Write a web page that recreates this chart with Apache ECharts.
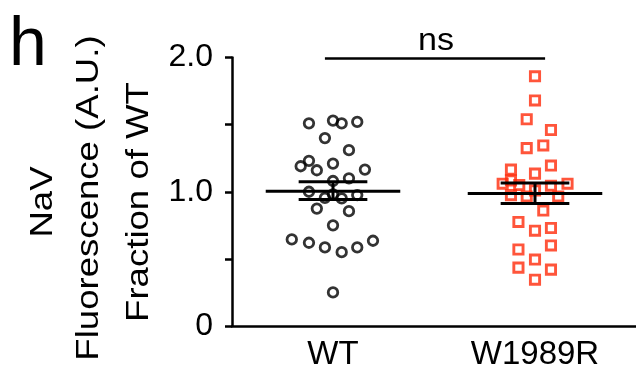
<!DOCTYPE html>
<html>
<head>
<meta charset="utf-8">
<script src="https://cdn.jsdelivr.net/npm/echarts@6/dist/echarts.min.js"></script>
<style>
  html, body { margin: 0; padding: 0; background: #fff; }
  #chart { width: 636px; height: 382px; }
</style>
</head>
<body>
<div id="chart"></div>
<script>
// groups on the x axis
const categories = ['WT', 'W1989R']

// [x position (jittered around group), value]
const wtPoints = [
  [0.881, 1.51], [1.0, 1.53], [1.043, 1.51], [1.12, 1.52], [0.96, 1.40],
  [1.079, 1.31], [0.881, 1.23], [0.84, 1.19], [0.92, 1.16], [1.0, 1.21],
  [1.158, 1.165], [1.0, 1.08], [1.079, 1.10], [0.881, 1.00], [0.96, 0.955],
  [1.0, 0.98], [1.043, 0.95], [1.12, 0.975], [0.92, 0.875], [1.079, 0.855],
  [1.0, 0.75], [0.796, 0.645], [0.881, 0.62], [0.96, 0.585], [1.043, 0.55],
  [1.12, 0.585], [1.198, 0.635], [1.0, 0.25]
]
const mutPoints = [
  [2.0, 1.86], [2.0, 1.68], [1.959, 1.54], [2.079, 1.46], [1.959, 1.325],
  [2.041, 1.345], [2.079, 1.195], [1.881, 1.165], [2.0, 1.135], [1.84, 1.06],
  [1.881, 1.085], [1.922, 1.05], [2.079, 1.045], [2.161, 1.06], [2.0, 1.01],
  [1.881, 0.975], [1.959, 0.965], [2.115, 0.965], [2.041, 0.86], [1.918, 0.775],
  [2.0, 0.71], [2.079, 0.73], [1.918, 0.57], [2.079, 0.60], [2.0, 0.495],
  [1.918, 0.435], [2.079, 0.42], [2.0, 0.345]
]

// [group x, mean, sem low, sem high]
const groupStats = [
  [1, 1.004, 0.942, 1.074],
  [2, 0.987, 0.912, 1.066]
]

// significance bracket: [x start, x end, y], label
const sigBracket = [[0.96, 2.05, 2.0]]
const sigLabel = 'ns'

const yTickValues = [0, 1, 2]
const yTickLabels = ['0', '1.0', '2.0']

const FONT = "'Liberation Sans', Arial, sans-serif"
const MEAN_HALF = 0.333
const SEM_HALF = 0.17
// reference type is set a bit wider than plain Arial
const WIDE = 1.18

const chart = echarts.init(document.getElementById('chart'), null, { renderer: 'canvas' })

function vText(text, x, y) {
  return {
    type: 'text', x, y, rotation: Math.PI / 2, scaleX: WIDE,
    style: { text, font: `31px ${FONT}`, fill: '#000', textAlign: 'center', textVerticalAlign: 'middle' }
  }
}

const option = {
  animation: false,
  backgroundColor: '#fff',
  grid: { left: 232, right: 0, top: 57.5, bottom: 56 },
  xAxis: [
    {
      type: 'category',
      data: categories,
      boundaryGap: true,
      axisLine: { lineStyle: { color: '#000', width: 2.5 } },
      axisTick: { alignWithLabel: true, length: 8, lineStyle: { color: '#000', width: 2.5 } },
      axisLabel: { color: '#000', fontSize: 33, fontFamily: FONT, margin: 12 },
      splitLine: { show: false }
    },
    {
      type: 'value',
      min: 0.5,
      max: 2.5,
      show: false,
      splitLine: { show: false }
    }
  ],
  yAxis: {
    type: 'value',
    min: 0,
    max: 2,
    interval: 0.5,
    axisLine: { show: true, lineStyle: { color: '#000', width: 2.5 } },
    axisTick: { show: true, length: 7, lineStyle: { color: '#000', width: 2.5 } },
    axisLabel: {
      color: '#000', fontSize: 32, fontFamily: FONT, margin: 19,
      formatter: v => {
        const i = yTickValues.indexOf(v)
        return i >= 0 ? yTickLabels[i] : ''
      }
    },
    splitLine: { show: false }
  },
  graphic: [
    { type: 'text', left: 9, top: 12, style: { text: 'h', font: `68px ${FONT}`, fill: '#000' } },
    vText('NaV', 43, 202),
    vText('Fluorescence (A.U.)', 89, 198),
    vText('Fraction of WT', 139, 202)
  ],
  series: [
    {
      name: 'WT',
      type: 'scatter',
      xAxisIndex: 1,
      data: wtPoints,
      symbol: 'circle',
      symbolSize: 9.5,
      itemStyle: { color: 'rgba(255,255,255,0)', borderColor: '#000', borderWidth: 2.8 },
      z: 2
    },
    {
      name: 'W1989R',
      type: 'scatter',
      xAxisIndex: 1,
      data: mutPoints,
      symbol: 'rect',
      symbolSize: 9.2,
      itemStyle: { color: 'rgba(255,255,255,0)', borderColor: '#ff2a0a', borderWidth: 2.9 },
      z: 2
    },
    {
      type: 'custom',
      xAxisIndex: 1,
      data: groupStats,
      z: 5,
      renderItem(params, api) {
        const x = api.value(0), m = api.value(1), lo = api.value(2), hi = api.value(3)
        const ml = api.coord([x - MEAN_HALF, m]), mr = api.coord([x + MEAN_HALF, m])
        const ll = api.coord([x - SEM_HALF, lo]), lr = api.coord([x + SEM_HALF, lo])
        const hl = api.coord([x - SEM_HALF, hi]), hr = api.coord([x + SEM_HALF, hi])
        const vb = api.coord([x, lo]), vt = api.coord([x, hi])
        const st = { stroke: '#000', lineWidth: 3 }
        return {
          type: 'group',
          children: [
            { type: 'line', shape: { x1: ml[0], y1: ml[1], x2: mr[0], y2: mr[1] }, style: st },
            { type: 'line', shape: { x1: ll[0], y1: ll[1], x2: lr[0], y2: lr[1] }, style: st },
            { type: 'line', shape: { x1: hl[0], y1: hl[1], x2: hr[0], y2: hr[1] }, style: st },
            { type: 'line', shape: { x1: vb[0], y1: vb[1], x2: vt[0], y2: vt[1] }, style: st }
          ]
        }
      }
    },
    {
      type: 'custom',
      xAxisIndex: 1,
      data: sigBracket,
      z: 5,
      renderItem(params, api) {
        const a = api.coord([api.value(0), api.value(2)])
        const b = api.coord([api.value(1), api.value(2)])
        return {
          type: 'group',
          children: [
            { type: 'line', shape: { x1: a[0], y1: a[1] + 1, x2: b[0], y2: b[1] + 1 }, style: { stroke: '#000', lineWidth: 2.5 } },
            { type: 'text', x: (a[0] + b[0]) / 2 + 1, y: a[1] - 16, scaleX: 1.1,
              style: { text: sigLabel, font: `31px ${FONT}`, fill: '#000', textAlign: 'center', textVerticalAlign: 'middle' } }
          ]
        }
      }
    }
  ]
}

chart.setOption(option)
</script>
</body>
</html>
